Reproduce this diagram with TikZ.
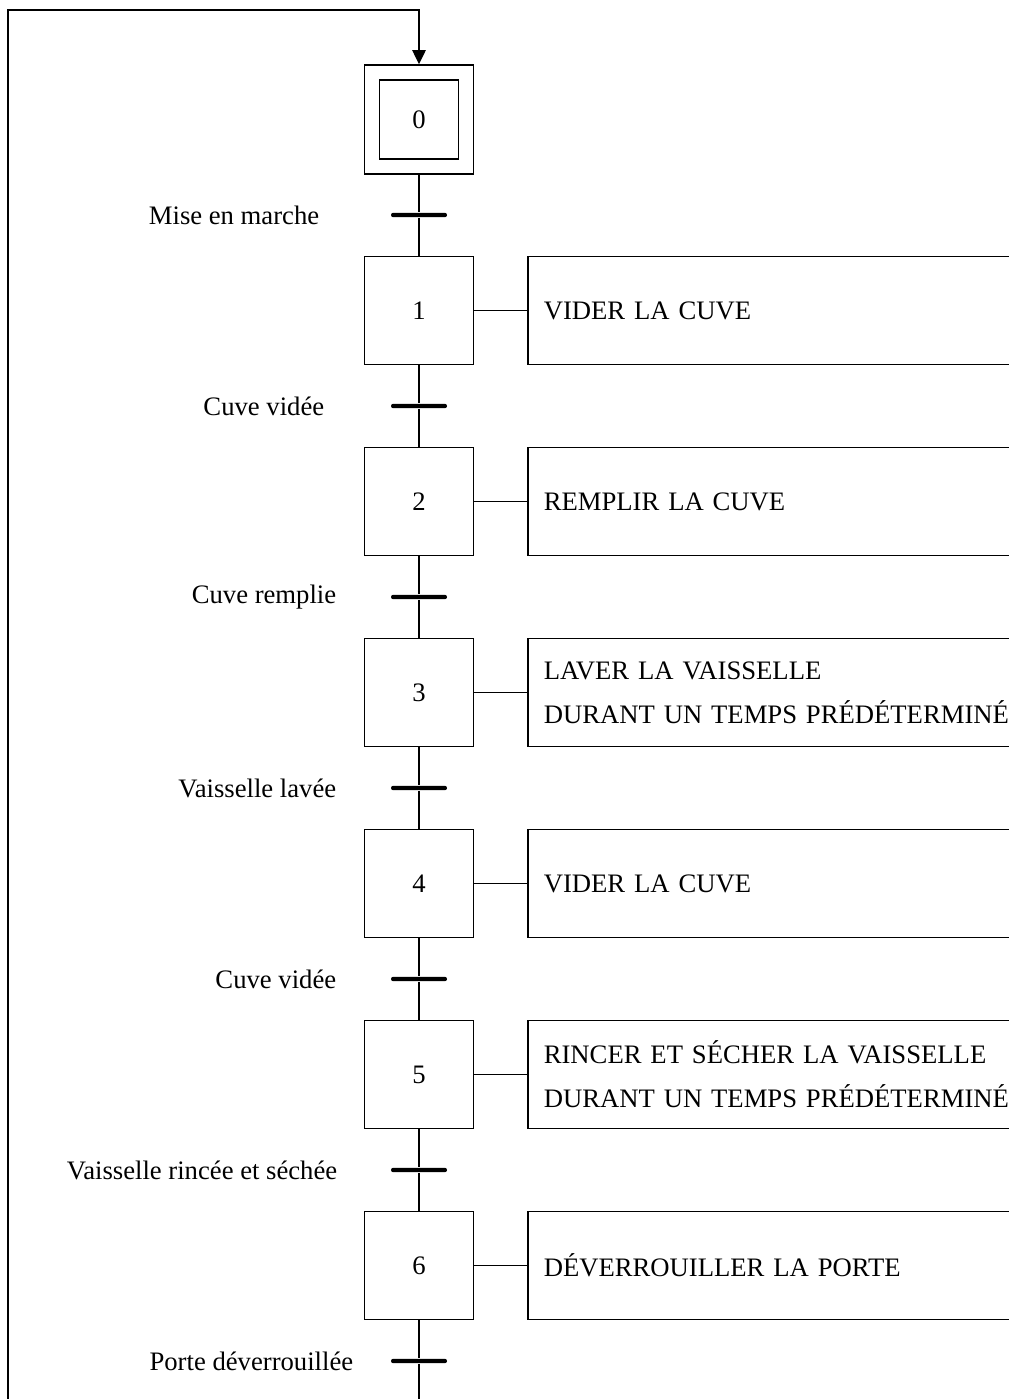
\documentclass[tikz,border=0pt]{standalone}
\usepackage{fontspec}
\setmainfont{Liberation Serif}
\usetikzlibrary{arrows.meta}

\tikzset{
  stepbox/.style={draw, line width=1.2pt, minimum width=81.75pt, minimum height=81pt, inner sep=0pt},
  initbox/.style={draw, line width=1.2pt, minimum size=81.75pt, inner sep=0pt},
  innerbox/.style={draw, line width=1.2pt, minimum size=59.25pt, inner sep=0pt},
  actionbox/.style={draw, line width=1.2pt, anchor=west, minimum height=81pt, text width=406pt,
    inner xsep=12pt, align=left, font=\fontsize{20}{33}\selectfont},
  transbar/.style={fill=black, rounded corners=1.5pt, minimum width=42pt, minimum height=3.2pt, inner sep=0pt},
  translabel/.style={anchor=east, inner sep=0pt}
}

\begin{document}
\begin{tikzpicture}[x=0.75pt, y=-0.75pt, font=\fontsize{20}{24}\selectfont, line width=1.2pt]

    \useasboundingbox (0,0) rectangle (1009,1399);
    \clip (0,0) rectangle (1009,1399);

    % these are the steps
    \node[initbox] (s0) at (419,119.5) {};
    \node[innerbox] (s0in) at (419,119.5) {0};
    \node[stepbox] (s1) at (419,310.5) {1};
    \node[stepbox] (s2) at (419,501.5) {2};
    \node[stepbox] (s3) at (419,692.5) {3};
    \node[stepbox] (s4) at (419,883.5) {4};
    \node[stepbox] (s5) at (419,1074.5) {5};
    \node[stepbox] (s6) at (419,1265.5) {6};

    % these are the actions
    \node[actionbox] (a1) at (527,310.5) {VIDER LA CUVE};
    \node[actionbox] (a2) at (527,501.5) {REMPLIR LA CUVE};
    \node[actionbox] (a3) at (527,692.5) {LAVER LA VAISSELLE\\DURANT UN TEMPS PRÉDÉTERMINÉ};
    \node[actionbox] (a4) at (527,883.5) {VIDER LA CUVE};
    \node[actionbox] (a5) at (527,1074.5) {RINCER ET SÉCHER LA VAISSELLE\\DURANT UN TEMPS PRÉDÉTERMINÉ};
    \node[actionbox] (a6) at (527,1265.5) {DÉVERROUILLER LA PORTE};

    % these are the transitions
    \node[transbar] (t0) at (419,215) {};
    \node[transbar] (t1) at (419,406) {};
    \node[transbar] (t2) at (419,597) {};
    \node[transbar] (t3) at (419,788) {};
    \node[transbar] (t4) at (419,979) {};
    \node[transbar] (t5) at (419,1170) {};
    \node[transbar] (t6) at (419,1361) {};

    \node[translabel] (l0) at (320,215) {Mise en marche};
    \node[translabel] (l1) at (325,406) {Cuve vidée};
    \node[translabel] (l2) at (337,597) {Cuve remplie};
    \node[translabel] (l3) at (337,788) {Vaisselle lavée};
    \node[translabel] (l4) at (337,979) {Cuve vidée};
    \node[translabel] (l5) at (338,1170) {Vaisselle rincée et séchée};
    \node[translabel] (l6) at (354,1361) {Porte déverrouillée};

    % links between steps and transitions
    \draw (s0) -- (t0) -- (s1);
    \draw (s1) -- (t1) -- (s2);
    \draw (s2) -- (t2) -- (s3);
    \draw (s3) -- (t3) -- (s4);
    \draw (s4) -- (t4) -- (s5);
    \draw (s5) -- (t5) -- (s6);

    % links to the actions
    \draw (s1) -- (a1);
    \draw (s2) -- (a2);
    \draw (s3) -- (a3);
    \draw (s4) -- (a4);
    \draw (s5) -- (a5);
    \draw (s6) -- (a6);

    % loop back to the initial step
    \coordinate (loopbot) at (419,1440);
    \coordinate (looptop) at (8,10);
    \draw[-{Triangle[length=10.5pt,width=10pt]}] (s6) -- (t6) -- (loopbot) -| (looptop) -| (s0.north);

\end{tikzpicture}
\end{document}
